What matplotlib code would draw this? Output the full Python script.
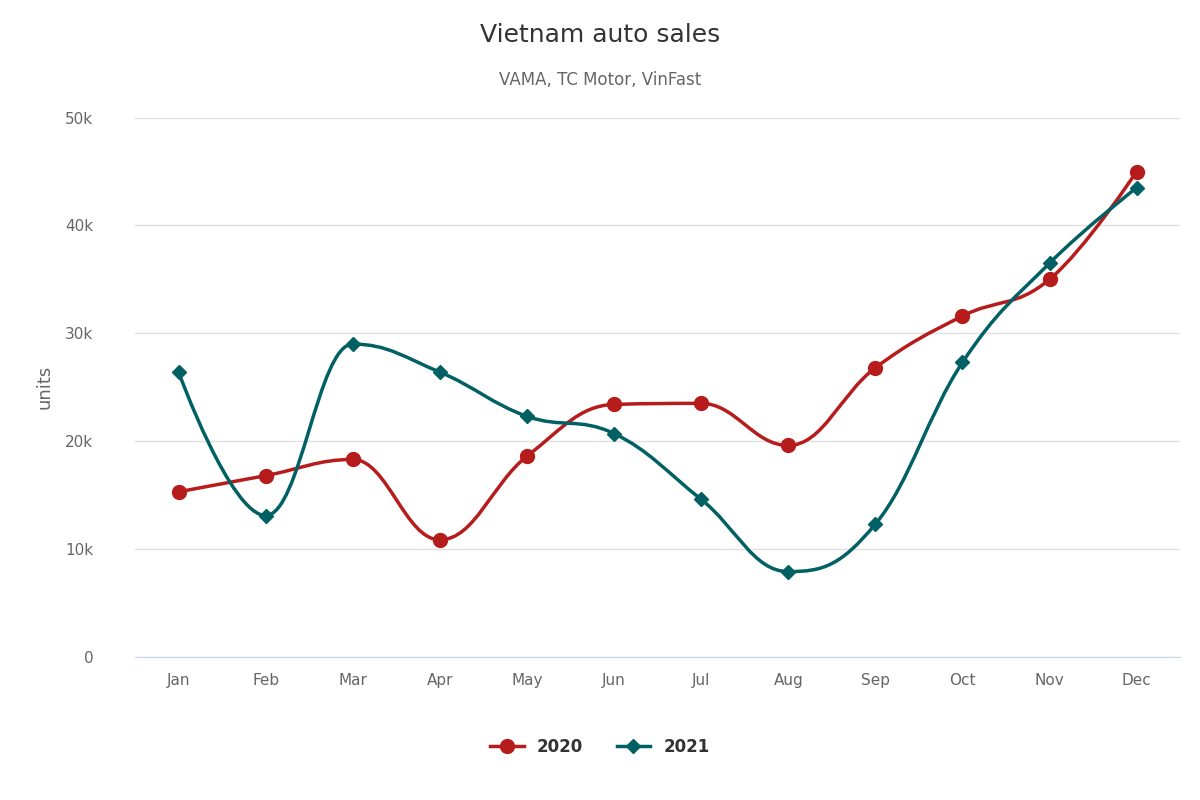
import matplotlib
matplotlib.use("Agg")
import matplotlib.pyplot as plt
from matplotlib.path import Path
from matplotlib.patches import PathPatch
from matplotlib.lines import Line2D
import numpy as np

months = ["Jan","Feb","Mar","Apr","May","Jun","Jul","Aug","Sep","Oct","Nov","Dec"]
sales_2020 = [15300,16800,18300,10850,18600,23400,23500,19600,26800,31600,35000,45000]
sales_2021 = [26400,13100,29000,26400,22300,20700,14600,7900,12300,27300,36500,43500]
yticks = [0,10000,20000,30000,40000,50000]
ylabels = ["0","10k","20k","30k","40k","50k"]

def spline_path(xs, ys):
    n = len(xs); s = 1.5; d = 2.5
    lc = [(xs[i], ys[i]) for i in range(n)]
    rc = [(xs[i], ys[i]) for i in range(n)]
    for i in range(1, n-1):
        px, py = xs[i], ys[i]
        lx, ly = xs[i-1], ys[i-1]
        nx, ny = xs[i+1], ys[i+1]
        lcx = (s*px+lx)/d; lcy = (s*py+ly)/d
        rcx = (s*px+nx)/d; rcy = (s*py+ny)/d
        if rcx != lcx:
            corr = ((rcy-lcy)*(rcx-px))/(rcx-lcx) + py - rcy
            lcy += corr; rcy += corr
        if lcy > ly and lcy > py:
            lcy = max(ly, py); rcy = 2*py - lcy
        elif lcy < ly and lcy < py:
            lcy = min(ly, py); rcy = 2*py - lcy
        if rcy > ny and rcy > py:
            rcy = max(ny, py); lcy = 2*py - rcy
        elif rcy < ny and rcy < py:
            rcy = min(ny, py); lcy = 2*py - rcy
        lc[i] = (lcx, lcy); rc[i] = (rcx, rcy)
    verts = [(xs[0], ys[0])]; codes = [Path.MOVETO]
    for i in range(1, n):
        verts += [rc[i-1], lc[i], (xs[i], ys[i])]
        codes += [Path.CURVE4]*3
    return Path(verts, codes)

fig = plt.figure(figsize=(12, 8), dpi=100)
ax = fig.add_axes([0.1125, 0.179, 0.871, 0.674])
x = np.arange(len(months))
c20, c21 = "#b71c1c", "#006064"
for ys, c, m, ms in [(sales_2020, c20, "o", 10), (sales_2021, c21, "D", 7)]:
    ax.add_patch(PathPatch(spline_path(list(x), ys), fill=False, edgecolor=c, lw=2.5, zorder=3))
    ax.plot(x, ys, ls="none", marker=m, ms=ms, color=c, zorder=4)

ax.set_xlim(-0.5, 11.5)
ax.set_ylim(0, 50000)
ax.set_yticks(yticks)
ax.set_yticklabels(ylabels)
ax.set_xticks(x)
ax.set_xticklabels(months)
ax.grid(axis="y", color="#e0e0e0", lw=1)
ax.set_axisbelow(True)
for sp in ["top", "right", "left"]:
    ax.spines[sp].set_visible(False)
ax.spines["bottom"].set_color("#ccd6eb")
ax.tick_params(axis="both", length=0, labelsize=11, labelcolor="#666666", pad=12)
ax.tick_params(axis="y", pad=30)
for t in ax.get_yticklabels():
    t.set_horizontalalignment("right")
ax.set_ylabel("units", fontsize=13, color="#666666", labelpad=8)

fig.text(0.5, 0.956, "Vietnam auto sales", ha="center", va="center", fontsize=18, color="#333333")
fig.text(0.5, 0.9, "VAMA, TC Motor, VinFast", ha="center", va="center", fontsize=12, color="#666666")

handles = [Line2D([], [], color=c20, lw=2.5, marker="o", ms=10),
           Line2D([], [], color=c21, lw=2.5, marker="D", ms=7)]
leg = fig.legend(handles, ["2020", "2021"], loc="center", bbox_to_anchor=(0.5, 0.066), ncol=2,
                 frameon=False, prop={"weight": "bold", "size": 12}, handlelength=2, columnspacing=2)
for t in leg.get_texts():
    t.set_color("#333333")

fig.savefig("out.png", dpi=100)
